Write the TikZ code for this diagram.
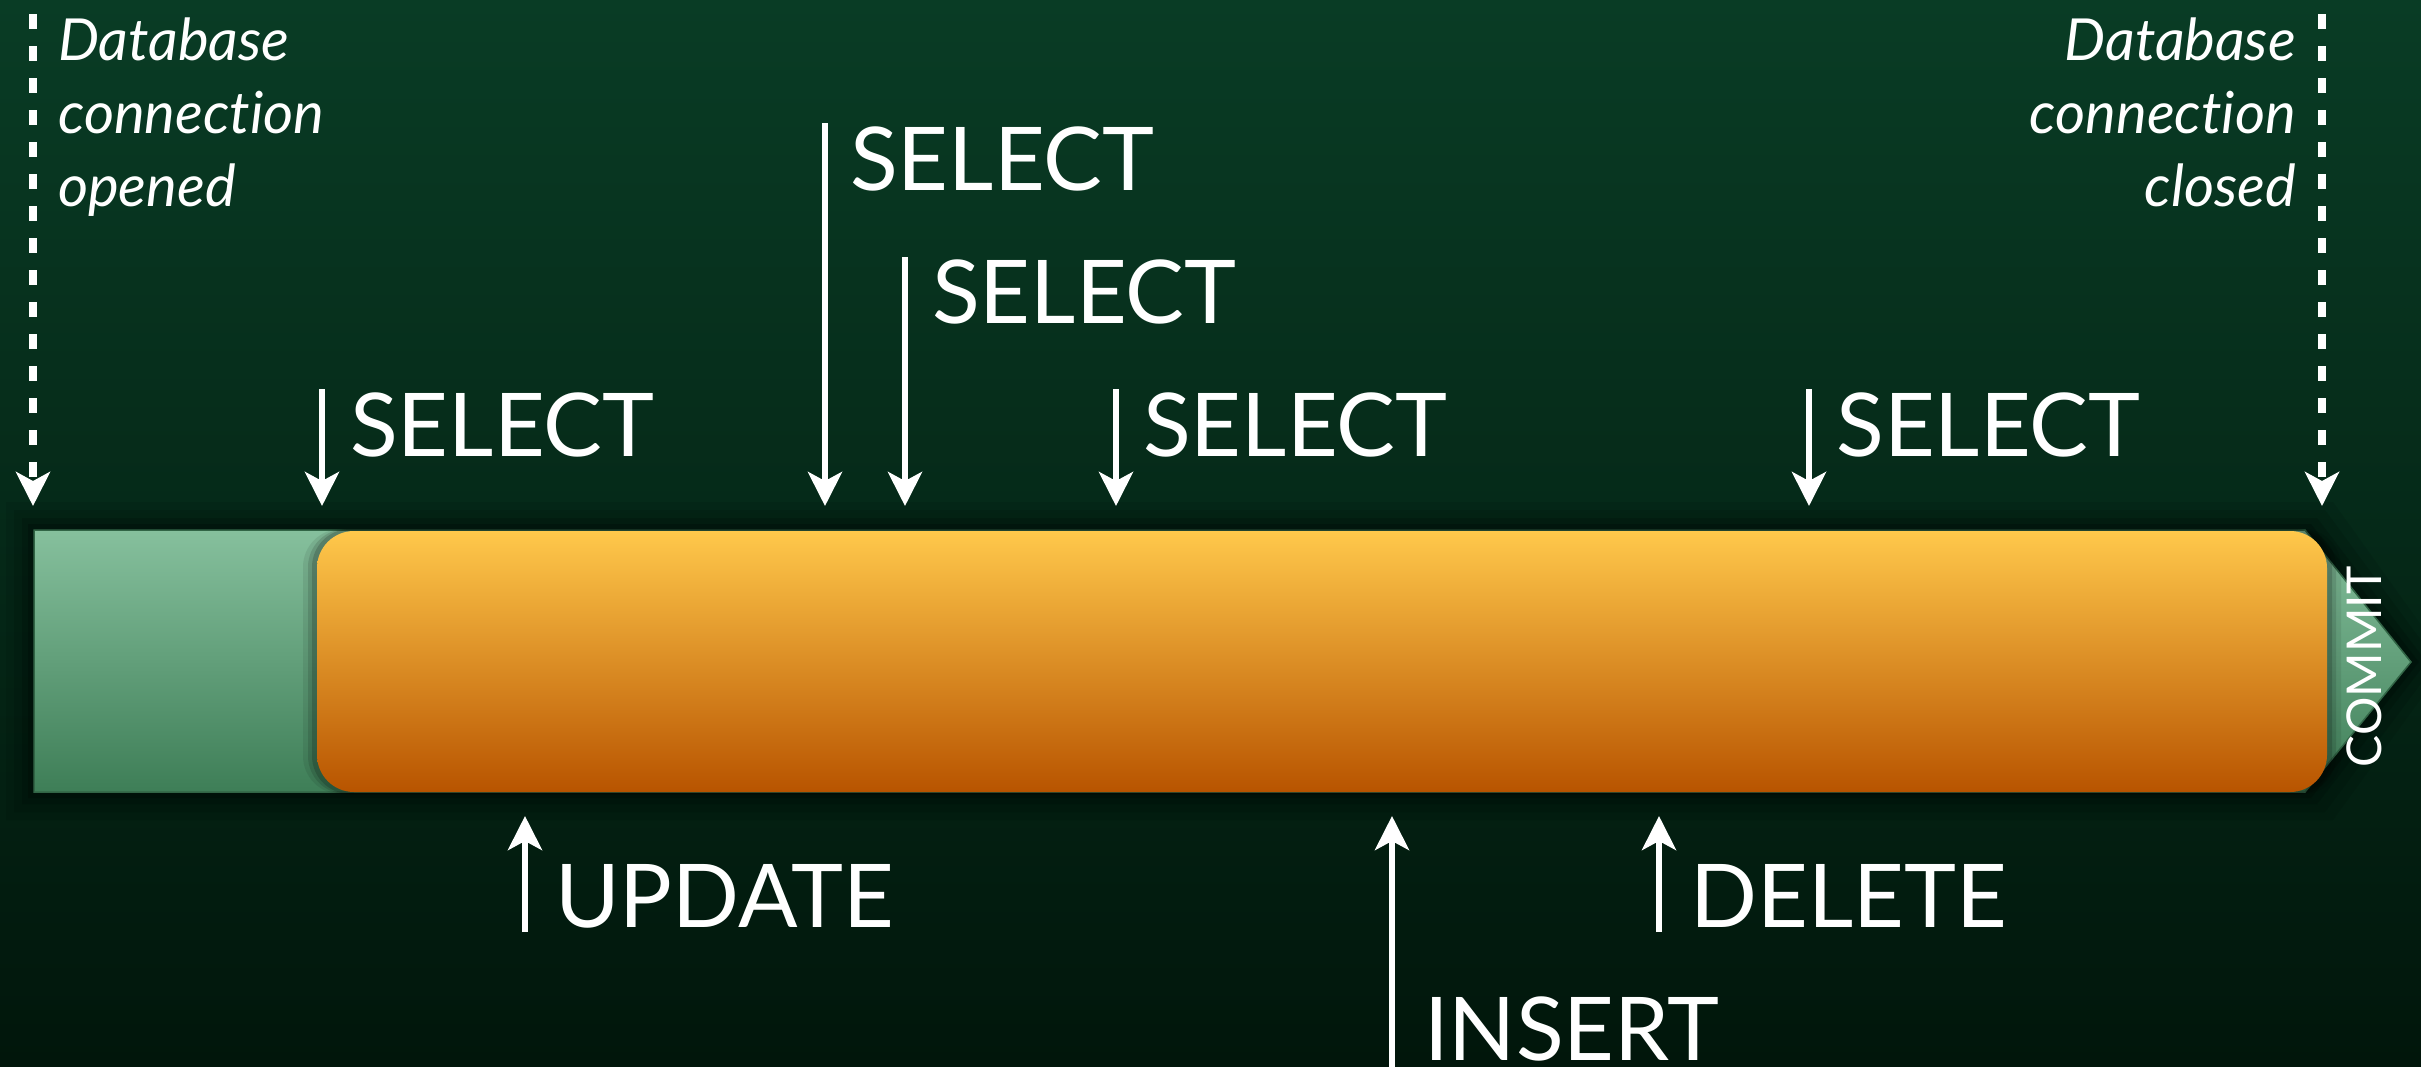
\documentclass[tikz,border=0pt]{standalone}
\usepackage{fontspec}
\setmainfont[Ligatures={NoCommon}]{Lato}
\usetikzlibrary{arrows.meta}
\definecolor{bgtop}{RGB}{9,60,37}
\definecolor{bgbot}{RGB}{1,22,11}
\definecolor{grtop}{RGB}{134,192,157}
\definecolor{grbot}{RGB}{62,126,87}
\definecolor{ortop}{RGB}{255,200,75}
\definecolor{orbot}{RGB}{184,84,0}
\tikzset{
  x=1pt, y=-1pt,
  solidarrow/.style={draw=white, line width=6pt, -{Stealth[length=34pt,width=34pt,inset=9pt]}},
  dasharrow/.style={draw=white, line width=8pt, dash pattern=on 15pt off 17pt, -{Stealth[length=34pt,width=34pt,inset=9pt]}},
  optext/.style={text=white, inner sep=0pt, anchor=base west, font=\fontsize{88}{96}\selectfont},
  conntext/.style={text=white, inner sep=0pt, font=\fontsize{58}{73}\selectfont\itshape},
}
\begin{document}
\begin{tikzpicture}
% background
\useasboundingbox (0,0) rectangle (2421,1066);
\shade[top color=bgtop, bottom color=bgbot] (0,0) rectangle (2421,1066);

% shadow glow
\foreach \d/\o in {28/0.08,20/0.1,12/0.14,6/0.18}{
  \fill[black, opacity=\o] (34-\d,530-\d) -- (2305+\d,530-\d) -- (2411+\d*1.3,662) -- (2305+\d,792+\d) -- (34-\d,792+\d) -- cycle;
}
% green bar with commit arrow
\shade[top color=grtop, bottom color=grbot] (34,530) -- (2305,530) -- (2411,662) -- (2305,792) -- (34,792) -- cycle;
\draw[grbot!80!black, line width=1.5pt] (34,530) -- (2305,530) -- (2411,662) -- (2305,792) -- (34,792) -- cycle;

% shadow of orange bar on green
\foreach \d/\o in {14/0.08,9/0.12,5/0.16}{
  \fill[black, opacity=\o, rounded corners=38pt] (317-\d,531-2) rectangle (2327+\d,792+2);
}
% orange bar
\shade[top color=ortop, bottom color=orbot, rounded corners=37pt] (317,531) rectangle (2327,792);
\node (bar) [inner sep=0pt, minimum width=2010pt, minimum height=261pt] at (1822,661.5) {};

% COMMIT
\node (commit) [text=white, rotate=90, inner sep=0pt, font=\fontsize{48}{48}\selectfont] at (2364,667) {COMMIT};

% connection lines
\coordinate (oa) at (33,14);
\coordinate (ob) at (33,506);
\draw[dasharrow] (oa) -- (ob);
\coordinate (ca) at (2322,14);
\coordinate (cb) at (2322,506);
\draw[dasharrow] (ca) -- (cb);

\node (opened) [conntext, anchor=base west, align=left] at (58,206) {Database\\connection\\opened};
\node (closed) [conntext, anchor=base east, align=right] at (2296,206) {Database\\connection\\closed};

% SELECT arrows
\coordinate (s1a) at (322,389); \coordinate (s1b) at (322,506);
\draw[solidarrow] (s1a) -- (s1b);
\node (s1) [optext] at (350,456) {SELECT};

\coordinate (s2a) at (825,123); \coordinate (s2b) at (825,506);
\draw[solidarrow] (s2a) -- (s2b);
\node (s2) [optext] at (850,190) {SELECT};

\coordinate (s3a) at (905,257); \coordinate (s3b) at (905,506);
\draw[solidarrow] (s3a) -- (s3b);
\node (s3) [optext] at (932,323) {SELECT};

\coordinate (s4a) at (1116,389); \coordinate (s4b) at (1116,506);
\draw[solidarrow] (s4a) -- (s4b);
\node (s4) [optext] at (1143,456) {SELECT};

\coordinate (s5a) at (1809,389); \coordinate (s5b) at (1809,506);
\draw[solidarrow] (s5a) -- (s5b);
\node (s5) [optext] at (1836,456) {SELECT};

% upward arrows
\coordinate (ua) at (525,932); \coordinate (ub) at (525,816);
\draw[solidarrow] (ua) -- (ub);
\node (upd) [optext] at (555,927) {UPDATE};

\coordinate (ia) at (1392,1070); \coordinate (ib) at (1392,816);
\draw[solidarrow] (ia) -- (ib);
\node (ins) [optext] at (1424,1060) {INSERT};

\coordinate (da) at (1659,932); \coordinate (db) at (1659,816);
\draw[solidarrow] (da) -- (db);
\node (del) [optext] at (1690,927) {DELETE};
\end{tikzpicture}
\end{document}
